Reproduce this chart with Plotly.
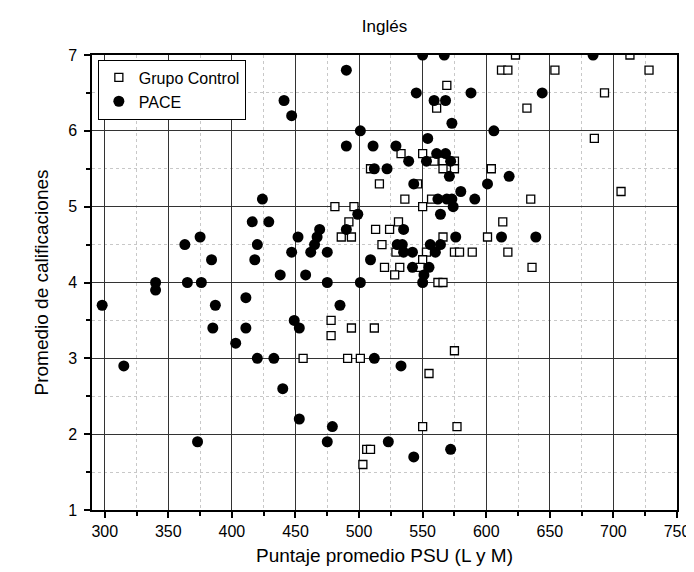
import plotly.graph_objects as go

# Grupo Control (x = Puntaje PSU, y = Promedio)
control_x = [623, 713, 612, 617, 654, 728, 569, 693, 561, 632, 685,
             533, 550, 559, 566, 575, 509, 566, 575, 604, 516, 546,
             536, 557, 635, 706, 481, 496, 550, 492, 531, 613, 513, 524,
             486, 494, 566, 601, 518, 529, 553, 575, 579, 589, 617, 550,
             520, 532, 548, 636, 528, 562, 566, 478, 494, 512, 478, 575,
             456, 491, 501, 555, 550, 577, 506, 509, 503]
control_y = [7.0, 7.0, 6.8, 6.8, 6.8, 6.8, 6.6, 6.5, 6.3, 6.3, 5.9,
             5.7, 5.7, 5.6, 5.6, 5.6, 5.5, 5.5, 5.5, 5.5, 5.3, 5.3,
             5.1, 5.1, 5.1, 5.2, 5.0, 5.0, 5.0, 4.8, 4.8, 4.8, 4.7, 4.7,
             4.6, 4.6, 4.6, 4.6, 4.5, 4.4, 4.4, 4.4, 4.4, 4.4, 4.4, 4.3,
             4.2, 4.2, 4.2, 4.2, 4.1, 4.0, 4.0, 3.5, 3.4, 3.4, 3.3, 3.1,
             3.0, 3.0, 3.0, 2.8, 2.1, 2.1, 1.8, 1.8, 1.6]

# PACE
pace_x = [490, 441, 447, 550, 567, 684, 545, 588, 644, 559, 568, 573,
          501, 606, 554, 490, 511, 529, 561, 568, 539, 553, 572, 512, 522,
          571, 618, 543, 601, 580, 424, 562, 569, 573, 591, 574, 499, 564,
          416, 429, 469, 490, 535, 375, 452, 467, 576, 612, 639,
          363, 420, 465, 530, 534, 556, 564, 447, 462, 475, 535, 542, 560,
          384, 418, 509, 542, 555, 438, 458, 551, 340, 365, 376, 475, 501,
          550, 340, 411, 298, 387, 485, 449, 385, 411, 453, 403, 420, 433,
          512, 315, 533, 440, 453, 479, 373, 475, 523, 572, 543]
pace_y = [6.8, 6.4, 6.2, 7.0, 7.0, 7.0, 6.5, 6.5, 6.5, 6.4, 6.4, 6.1,
          6.0, 6.0, 5.9, 5.8, 5.8, 5.8, 5.7, 5.7, 5.6, 5.6, 5.6, 5.5, 5.5,
          5.4, 5.4, 5.3, 5.3, 5.2, 5.1, 5.1, 5.1, 5.1, 5.1, 5.0, 4.9, 4.9,
          4.8, 4.8, 4.7, 4.7, 4.7, 4.6, 4.6, 4.6, 4.6, 4.6, 4.6,
          4.5, 4.5, 4.5, 4.5, 4.5, 4.5, 4.5, 4.4, 4.4, 4.4, 4.4, 4.4, 4.4,
          4.3, 4.3, 4.3, 4.2, 4.2, 4.1, 4.1, 4.1, 4.0, 4.0, 4.0, 4.0, 4.0,
          4.0, 3.9, 3.8, 3.7, 3.7, 3.7, 3.5, 3.4, 3.4, 3.4, 3.2, 3.0, 3.0,
          3.0, 2.9, 2.9, 2.6, 2.2, 2.1, 1.9, 1.9, 1.9, 1.8, 1.7]

x_ticks = [300, 350, 400, 450, 500, 550, 600, 650, 700, 750]
y_ticks = [1, 2, 3, 4, 5, 6, 7]

FONT = "Liberation Sans, Arial, sans-serif"

fig = go.Figure()
fig.add_trace(go.Scatter(
    x=control_x, y=control_y, mode="markers", name="Grupo Control",
    marker=dict(symbol="square", size=8, color="white",
                line=dict(color="black", width=1.3))))
fig.add_trace(go.Scatter(
    x=pace_x, y=pace_y, mode="markers", name="PACE",
    marker=dict(symbol="circle", size=11, color="black",
                line=dict(color="black", width=0))))

axis_common = dict(
    showline=True, mirror=True, linecolor="black", linewidth=1.5,
    showgrid=True, gridcolor="#333333", gridwidth=1,
    zeroline=False, ticks="outside", ticklen=6, tickwidth=1.5,
    tickcolor="black", tickfont=dict(size=16, color="black", family=FONT),
)

fig.update_xaxes(
    range=[290, 750], tickvals=x_ticks,
    title=dict(text="Puntaje promedio PSU (L y M)",
               font=dict(size=19, color="black", family=FONT), standoff=10),
    minor=dict(dtick=25, tick0=275, showgrid=True, gridcolor="#c8c8c8",
               griddash="dot", gridwidth=1, ticks="outside", ticklen=4,
               tickcolor="black"),
    **axis_common)
fig.update_yaxes(
    range=[1, 7], tickvals=y_ticks, ticklabelstandoff=4,
    title=dict(text="Promedio de calificaciones",
               font=dict(size=19, color="black", family=FONT), standoff=14),
    minor=dict(dtick=0.5, tick0=0.5, showgrid=True, gridcolor="#c8c8c8",
               griddash="dot", gridwidth=1, ticks="outside", ticklen=4,
               tickcolor="black"),
    **axis_common)

fig.update_layout(
    width=694, height=572,
    margin=dict(l=84, r=17, t=47, b=70),
    paper_bgcolor="white", plot_bgcolor="white",
    font=dict(family=FONT, color="black"),
    title=dict(text="Inglés", x=0.5, xref="paper", y=1 - 18 / 572,
               yref="container", yanchor="middle",
               font=dict(size=17, color="black", family=FONT)),
    showlegend=True,
    legend=dict(x=0.01, y=0.99, xanchor="left", yanchor="top",
                bgcolor="white", bordercolor="black", borderwidth=1,
                font=dict(size=16, color="black", family=FONT),
                itemsizing="trace", tracegroupgap=0),
)

fig.write_html("out.html")
